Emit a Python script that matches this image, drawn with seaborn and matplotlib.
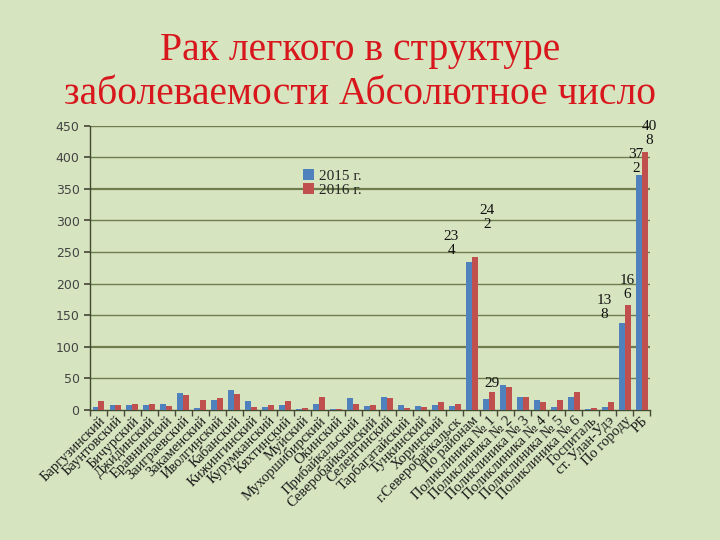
import matplotlib
matplotlib.use("Agg")
import matplotlib.pyplot as plt
import seaborn as sns
import pandas as pd
import numpy as np

categories = ["Баргузинский", "Баунтовский", "Бичурский", "Джидинский", "Еравнинский",
              "Заиграевский", "Закаменский", "Иволгинский", "Кабанский", "Кижингинский",
              "Курумканский", "Кяхтинский", "Муйский", "Мухоршибирский", "Окинский",
              "Прибайкальский", "Северобайкальский", "Селенгинский", "Тарбагатайский",
              "Тункинский", "Хоринский", "г.Северобайкальск", "По районам",
              "Поликлиника № 1", "Поликлиника № 2", "Поликлиника № 3", "Поликлиника № 4",
              "Поликлиника № 5", "Поликлиника № 6", "Госпиталь", "ст. Улан-Удэ",
              "По городу", "РБ"]
values_2015 = [5, 8, 8, 8, 9, 27, 3, 16, 32, 14, 5, 8, 2, 9, 1, 19, 6, 20, 7, 6, 8, 6, 234,
               17, 40, 20, 15, 5, 20, 2, 5, 138, 372]
values_2016 = [14, 8, 10, 9, 6, 24, 15, 18, 25, 4, 8, 14, 3, 20, 1, 9, 8, 18, 3, 5, 13, 9, 242,
               29, 36, 20, 13, 15, 29, 3, 13, 166, 408]
series = ["2015 г.", "2016 г."]
colors = ["#4f81bd", "#c0504d"]
# labelled bars: (category, series index, wrapped label text)
labelled = [("По районам", 0, "23\n4"), ("По районам", 1, "24\n2"),
            ("Поликлиника № 1", 1, "29"), ("По городу", 0, "13\n8"),
            ("По городу", 1, "16\n6"), ("РБ", 0, "37\n2"), ("РБ", 1, "40\n8")]
# label placement tweaks (category units, value units)
label_dx = [-1.05, 0.7, 0.0, -1.05, 0.0, -0.15, 0.25]
label_dy = [8, 42, 3, 2, 6, 0, 8]

df = pd.DataFrame({
    "cat": categories * 2,
    "val": values_2015 + values_2016,
    "year": [series[0]] * len(categories) + [series[1]] * len(categories),
})

sns.set_theme(style="white")
plt.rcParams["font.family"] = ["DejaVu Sans"]
bg = "#d7e4c0"
fig = plt.figure(figsize=(7.2, 5.4), dpi=100, facecolor=bg)
ax = fig.add_axes([0.125, 0.241, 0.778, 0.526])
ax.set_facecolor(bg)

sns.barplot(data=df, x="cat", y="val", hue="year", palette=colors, width=0.7,
            saturation=1, ax=ax, zorder=3, edgecolor="none")

ax.set_ylim(0, 450)
ax.set_xlim(-0.5, len(categories) - 0.5)
ax.set_yticks(np.arange(0, 451, 50))
for yv in np.arange(50, 451, 50):
    lw = 1.6 if yv in (100, 350) else 1.0
    ax.axhline(yv, color="#6f7d4e", lw=lw, zorder=1)

ax.set_xlabel("")
ax.set_ylabel("")
ax.set_xticks(range(len(categories)))
ax.set_xticklabels(categories, rotation=45, ha="right", rotation_mode="anchor",
                   family="Liberation Serif", fontsize=10.5, color="#1a1a1a")
ax.tick_params(axis="x", length=0, pad=3)
ax.tick_params(axis="y", length=4, color="#4a4a3a", labelsize=9, labelcolor="#444444",
               direction="out", left=True)
ax.set_xticks(np.arange(-0.5, len(categories), 1), minor=True)
ax.tick_params(axis="x", which="minor", length=4, color="#4a4a3a", bottom=True)

for s in ["top", "right"]:
    ax.spines[s].set_visible(False)
for s in ["left", "bottom"]:
    ax.spines[s].set_color("#3f4a2f")
    ax.spines[s].set_linewidth(1.0)

vals = {series[0]: values_2015, series[1]: values_2016}
offs = 0.7 / 4
for (cat, si, txt), dx, dy in zip(labelled, label_dx, label_dy):
    i = categories.index(cat)
    v = vals[series[si]][i]
    x = i + (-offs if si == 0 else offs) + dx
    ax.text(x, v + dy, txt, ha="center", va="bottom", family="Liberation Serif",
            fontsize=11, color="#111111", linespacing=1.1, zorder=5)

leg = ax.legend(loc="upper left", bbox_to_anchor=(0.37, 0.87), frameon=False,
                prop={"family": "Liberation Serif", "size": 11},
                handlelength=0.7, handleheight=0.7, handletextpad=0.3,
                labelspacing=0.05, borderaxespad=0)

fig.text(0.5, 0.865, "Рак легкого в структуре\nзаболеваемости Абсолютное число",
         ha="center", va="center", family="Liberation Serif", fontsize=28.5,
         color="#d8171d", linespacing=1.25)

fig.savefig("out.png", dpi=100, facecolor=bg)
